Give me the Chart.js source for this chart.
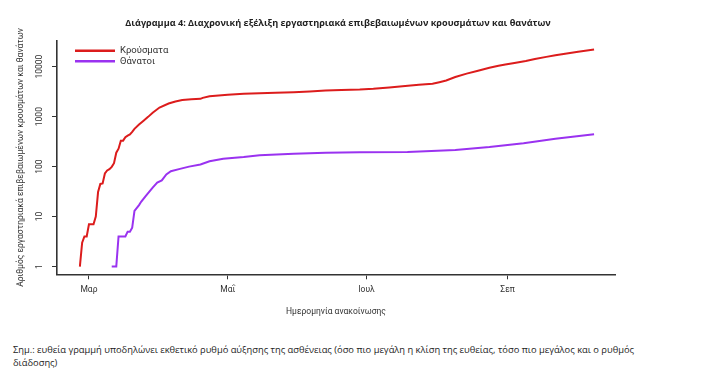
<!DOCTYPE html>
<html lang="el">
<head>
<meta charset="utf-8">
<script src="https://cdn.jsdelivr.net/npm/chart.js@4.4.0/dist/chart.umd.min.js"></script>
<style>
  html, body { margin: 0; padding: 0; background: #fff; }
  #wrap { position: relative; width: 704px; height: 388px; overflow: hidden; font-family: 'Open Sans', sans-serif; color: #222; }
  #chart { position: absolute; left: 0; top: 0; }
  #titleRow { position: absolute; left: 0; top: 12px; width: 676px; text-align: center; line-height: 16px; }
  #title { display: inline-block; font-weight: bold; font-size: 10px; white-space: nowrap; }
  #note { position: absolute; left: 13px; top: 343px; font-size: 9.5px; line-height: 13px; white-space: nowrap; }
  #note span { display: inline-block; }
</style>
</head>
<body>
<div id="wrap">
  <canvas id="chart" width="704" height="330"></canvas>
  <div id="titleRow"><span id="title">Διάγραμμα 4: Διαχρονική εξέλιξη εργαστηριακά επιβεβαιωμένων κρουσμάτων και θανάτων</span></div>
  <div id="note"><span id="noteLine">Σημ.: ευθεία γραμμή υποδηλώνει εκθετικό ρυθμό αύξησης της ασθένειας (όσο πιο μεγάλη η κλίση της ευθείας, τόσο πιο μεγάλος και ο ρυθμός</span><br><span>διάδοσης)</span></div>
</div>
<script>
// days counted from 1 March 2020
const caseDays = [-4, -3, -2, -1, 0, 1, 2, 3, 4, 5, 6, 7, 8, 9, 10, 11, 12, 13, 14, 15, 16, 17, 18, 19, 20, 22, 24, 26, 28, 31, 35, 38, 41, 45, 49, 50, 53, 57, 61, 68, 75, 82, 90, 97, 104, 111, 119, 125, 132, 139, 145, 151, 154, 157, 161, 166, 171, 176, 180, 183, 187, 192, 196, 201, 205, 210, 215, 222];
const caseValues = [1, 3, 4, 4, 7, 7, 7, 10, 31, 45, 46, 73, 84, 89, 99, 117, 190, 228, 331, 331, 387, 418, 440, 495, 570, 695, 830, 990, 1200, 1520, 1830, 2010, 2150, 2230, 2270, 2380, 2560, 2650, 2750, 2860, 2950, 3020, 3090, 3200, 3340, 3430, 3500, 3620, 3850, 4100, 4350, 4550, 4900, 5300, 6200, 7250, 8300, 9500, 10400, 11000, 11900, 13000, 14200, 15700, 17000, 18400, 19800, 22000];

const deathDays = [10, 12, 13, 14, 16, 17, 18, 19, 20, 22, 23, 25, 28, 30, 32, 34, 36, 40, 44, 49, 53, 59, 68, 75, 90, 104, 119, 140, 161, 176, 191, 205, 222];
const deathValues = [1, 1, 4, 4, 4, 5, 5, 6, 13, 17, 20, 26, 38, 48, 53, 70, 81, 90, 100, 110, 128, 143, 155, 168, 180, 190, 193, 197, 215, 247, 295, 360, 443];

const tickDays = [0, 61, 122, 184];
const tickLabels = ['Μαρ', 'Μαΐ', 'Ιουλ', 'Σεπ'];
const yTicks = [1, 10, 100, 1000, 10000];
const yTickLabels = ['1', '10', '100', '1000', '10000'];

const axisFont = { family: 'Roboto', size: 8.5 };
const axisColor = '#333';

// legend drawn inside the plot, line + label
const lineLegend = {
  id: 'lineLegend',
  afterDraw(chart) {
    const c = chart.ctx;
    const area = chart.chartArea;
    c.save();
    c.font = '9.5px Roboto';
    c.textBaseline = 'middle';
    chart.data.datasets.forEach((ds, i) => {
      const y = area.top + 10 + i * 10.5;
      c.strokeStyle = ds.borderColor;
      c.lineWidth = 2.5;
      c.beginPath();
      c.moveTo(area.left + 18, y);
      c.lineTo(area.left + 58, y);
      c.stroke();
      c.fillStyle = '#333';
      c.fillText(ds.label, area.left + 63, y);
    });
    c.restore();
  }
};

const ctx = document.getElementById('chart').getContext('2d');
const chart = new Chart(ctx, {
  type: 'line',
  data: {
    datasets: [
      {
        label: 'Κρούσματα',
        data: caseDays.map((d, i) => ({ x: d, y: caseValues[i] })),
        borderColor: '#dc1c1c',
        borderWidth: 2,
        pointRadius: 0,
        tension: 0
      },
      {
        label: 'Θάνατοι',
        data: deathDays.map((d, i) => ({ x: d, y: deathValues[i] })),
        borderColor: '#9a32f0',
        borderWidth: 2,
        pointRadius: 0,
        tension: 0
      }
    ]
  },
  options: {
    responsive: false,
    animation: false,
    devicePixelRatio: 1,
    layout: { padding: { left: 0, top: 40.7, right: 89, bottom: 0 } },
    plugins: {
      legend: { display: false },
      tooltip: { enabled: false }
    },
    scales: {
      x: {
        type: 'linear',
        min: -14.05,
        max: 231.2,
        afterBuildTicks: s => { s.ticks = tickDays.map(v => ({ value: v })); },
        afterFit: s => { s.height = 55.7; },
        ticks: {
          callback: (v, i) => tickLabels[i],
          font: axisFont,
          color: axisColor,
          padding: 5,
          maxRotation: 0,
          autoSkip: false
        },
        grid: { drawOnChartArea: false, drawTicks: true, tickLength: 5, color: axisColor },
        border: { color: axisColor, width: 1.6 },
        title: {
          display: true,
          text: 'Ημερομηνία ανακοίνωσης',
          font: axisFont,
          color: axisColor,
          padding: { top: 0, bottom: 13 }
        }
      },
      y: {
        type: 'logarithmic',
        min: 0.705,
        max: 33100,
        afterBuildTicks: s => { s.ticks = yTicks.map(v => ({ value: v })); },
        afterFit: s => { s.width = 57; },
        ticks: {
          callback: (v, i) => yTickLabels[i],
          font: axisFont,
          color: axisColor,
          minRotation: 90,
          maxRotation: 90,
          crossAlign: 'center',
          padding: 0,
          autoSkip: false
        },
        grid: { drawOnChartArea: false, drawTicks: true, tickLength: 5, color: axisColor },
        border: { color: axisColor, width: 1.6 },
        title: {
          display: true,
          text: 'Αριθμός εργαστηριακά επιβεβαιωμένων κρουσμάτων και θανάτων',
          font: axisFont,
          color: axisColor,
          padding: { top: 16, bottom: 0 }
        }
      }
    }
  },
  plugins: [lineLegend]
});

// squeeze the html texts to the widths seen in the reference
function fitWidth(el, target) {
  const w = el.getBoundingClientRect().width;
  const size = parseFloat(getComputedStyle(el).fontSize);
  el.style.fontSize = (size * target / w) + 'px';
}
fitWidth(document.getElementById('title'), 426);
const noteLine = document.getElementById('noteLine');
fitWidth(noteLine, 622);
document.getElementById('note').style.fontSize = noteLine.style.fontSize;
</script>
</body>
</html>
